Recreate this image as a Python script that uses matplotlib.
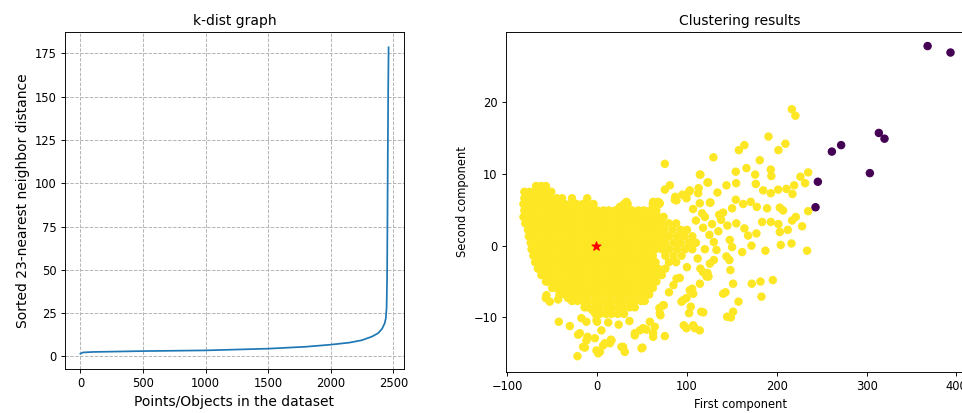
import matplotlib
matplotlib.use("Agg")
import matplotlib.pyplot as plt
import numpy as np

# ---------------- k-dist curve (sorted 23-NN distances) ----------------
kdist_x = [0, 20, 100, 500, 1000, 1500, 1800, 2000, 2150, 2250, 2330, 2380,
           2410, 2430, 2440, 2446, 2450, 2453, 2456, 2459, 2462]
kdist_y = [1.6, 2.3, 2.6, 3.1, 3.5, 4.5, 5.6, 6.8, 8.0, 9.4, 11.5, 13.5,
           16.0, 19.0, 22.0, 28.0, 45.0, 80.0, 120.0, 155.0, 178.5]

# ---------------- clustering scatter ----------------
# dense core of the main cluster: one y value per row, x values per row
core_row_y = [8.3, 7.5, 6.6, 5.8, 4.9, 4.0, 3.1, 2.2, 1.3, 0.4, -0.5, -1.4,
              -2.3, -3.2, -4.1, -5.0, -5.9, -6.8, -7.7, -8.6, -9.5]
core_row_x = [
    [-68, -62, -57],
    [-81, -75, -68, -62, -55, -51],
    [-81, -78, -71, -65, -58, -52, -45, -39, -28, -11],
    [-82, -75, -68, -62, -55, -49, -42, -36, -29, -23, -16, -10, -4, 30, 34, 62, 69],
    [-81, -78, -71, -65, -58, -52, -45, -39, -32, -26, -19, -13, -6, 0, 7, 13, 20, 26,
     33, 39, 46, 52, 59, 66],
    [-82, -75, -68, -62, -55, -49, -42, -36, -29, -23, -16, -10, -3, 3, 10, 16, 23, 29,
     36, 42, 49, 55, 62, 68, 74],
    [-80, -78, -71, -65, -58, -52, -45, -39, -32, -26, -19, -13, -6, 0, 7, 13, 20, 26,
     33, 39, 46, 52, 59, 65, 72, 80, 88],
    [-77, -75, -68, -62, -55, -49, -42, -36, -29, -23, -16, -10, -3, 3, 10, 16, 23, 29,
     36, 42, 49, 55, 62, 68, 75, 84, 93, 100],
    [-76, -71, -65, -58, -52, -45, -39, -32, -26, -19, -13, -6, 0, 7, 13, 20, 26, 33,
     39, 46, 52, 59, 65, 72, 80, 89, 97, 106],
    [-74, -68, -62, -55, -49, -42, -36, -29, -23, -16, -10, -3, 3, 10, 16, 23, 29, 36,
     42, 49, 55, 62, 68, 76, 85, 93, 102, 110],
    [-73, -71, -65, -58, -52, -45, -39, -32, -26, -19, -13, -6, 0, 7, 13, 20, 26, 33,
     39, 46, 52, 59, 65, 72, 80, 89, 98, 106],
    [-71, -68, -62, -55, -49, -42, -36, -29, -23, -16, -10, -3, 3, 10, 16, 23, 29, 36,
     42, 49, 55, 62, 76, 85, 94],
    [-69, -65, -58, -52, -45, -39, -32, -26, -19, -13, -6, 0, 7, 13, 20, 26, 33, 39,
     46, 52, 59, 65, 80, 88],
    [-66, -62, -55, -49, -42, -36, -29, -23, -16, -10, -3, 3, 10, 16, 23, 29, 36, 42,
     49, 55, 62, 68, 76],
    [-62, -58, -52, -45, -39, -32, -26, -19, -13, -6, 0, 7, 13, 20, 26, 33, 39, 46,
     52, 59, 65, 72],
    [-57, -55, -49, -42, -36, -29, -23, -16, -10, -3, 3, 10, 16, 23, 29, 36, 42, 49,
     55, 62, 66],
    [-50, -45, -39, -32, -26, -19, -13, -6, 0, 7, 13, 20, 26, 33, 39, 46, 52, 58, 62],
    [-42, -36, -29, -23, -16, -10, -3, 3, 10, 16, 23, 29, 36, 42, 49, 55, 58],
    [-28, -22, -16, -10, -3, 3, 10, 16, 23, 29, 36, 42, 49, 53],
    [-14, -10, -3, 3, 10, 16, 23, 29, 36, 42],
    [-2, 3, 10, 16, 23, 30],
]

# sparser points of the main cluster (x, y)
tail_upper = [
    (216.8, 19.0), (220.8, 18.1), (190.8, 15.2), (209.7, 14.2), (164.0, 14.0),
    (157.8, 13.3), (201.9, 13.3), (129.5, 12.3), (181.1, 11.9), (75.4, 11.4),
    (235.0, 10.2), (226.4, 9.6), (231.6, 8.7), (115.0, 9.9), (154.4, 10.3),
    (166.3, 10.8), (176.0, 9.9), (193.4, 10.6), (194.0, 9.7), (122.9, 8.8),
    (113.0, 8.0), (81.0, 8.4), (75.4, 7.8), (219.4, 8.4), (210.8, 7.9),
    (201.6, 7.8), (217.5, 7.2), (144.0, 8.4), (134.0, 7.4), (154.8, 8.7),
    (176.7, 8.6), (184.9, 7.7), (193.4, 7.3), (102.4, 7.5), (95.0, 7.1),
    (86.5, 6.4), (68.0, 6.1), (62.4, 6.1), (87.0, 6.8), (126.2, 6.0),
    (114.3, 5.9), (154.4, 6.4), (162.6, 5.8), (171.0, 6.1), (177.8, 5.4),
    (189.3, 5.2), (203.4, 5.3), (207.1, 4.9), (235.0, 4.8), (150.3, 5.2),
    (140.3, 4.6), (135.9, 4.3), (106.9, 5.1), (116.9, 4.5), (221.2, 4.0),
    (217.1, 3.5), (228.3, 2.7), (183.7, 3.3), (193.4, 3.3), (201.9, 3.0),
    (212.3, 2.2), (203.4, 1.9), (164.0, 2.4), (168.1, 1.4), (177.4, 1.7),
    (112.5, 7.3), (99.5, 6.6), (32.7, 6.1), (25.3, 5.4), (69.8, 5.9),
    (88.4, 6.3), (125.5, 6.0), (123.6, 8.8), (114.4, 9.9), (103.2, 7.7),
    (118.0, 2.5), (125.0, 1.5), (130.0, 0.5), (110.0, 3.5), (128.0, 3.0),
    (135.0, 2.0), (120.0, 4.0), (138.0, 3.6), (145.0, 2.8), (155.0, 3.1),
]
tail_lower = [
    (171.9, 0.0), (161.5, -0.9), (187.4, -0.7), (204.5, 0.1), (216.4, 0.3),
    (233.8, -0.7), (147.7, 0.8), (150.3, -0.2), (147.3, -2.0), (148.4, -3.4),
    (151.4, -5.3), (157.4, -7.8), (172.2, -5.3), (181.9, -5.0), (195.6, -4.8),
    (183.0, -7.1), (140.3, -6.7), (143.0, -6.5), (151.4, -9.2), (144.8, -9.9),
    (148.9, -10.0), (132.9, -0.6), (144.0, -1.5), (125.5, -2.5), (122.9, -3.8),
    (124.0, -4.3), (115.0, -3.2), (118.0, -3.7), (105.8, -6.0), (107.0, -6.7),
    (99.5, -7.3), (93.9, -7.8), (104.3, -8.5), (102.4, -9.4), (96.5, -11.1),
    (99.5, -11.5), (108.8, -11.5), (114.3, -11.8), (107.0, -11.1), (115.9, -9.2),
    (118.2, -9.3), (75.4, -12.6), (62.4, -12.2), (64.2, -11.3), (74.2, -8.3),
    (70.5, -9.7), (69.4, -8.7), (50.5, -14.2), (42.0, -12.2), (47.5, -11.8),
    (51.2, -11.5), (54.9, -11.7), (30.8, -14.8), (27.1, -14.1), (-0.7, -14.6),
    (3.0, -14.8), (6.7, -13.9), (14.1, -13.6), (16.0, -13.2), (4.8, -11.8),
    (-0.7, -10.4), (0.0, -10.6), (-15.6, -14.1), (-11.9, -13.2), (-19.3, -12.2),
    (-21.2, -12.4), (-11.9, -10.6), (-17.5, -10.1), (-21.9, -15.4), (-30.4, -11.2),
    (-42.7, -10.6), (-43.4, -7.5), (-32.3, -7.3), (-52.7, -7.8), (-56.4, -6.9),
    (-57.2, -7.3), (-5.2, -9.0), (-13.6, -14.2), (1.2, -15.0), (8.6, -13.6),
    (15.3, -13.1), (12.4, -10.7), (-10.7, -12.7), (-2.5, -12.9), (29.0, -14.1),
    (49.4, -14.3), (42.0, -12.5), (58.7, -10.6), (62.4, -12.7), (73.5, -8.3),
    (69.8, -9.4), (88.4, -4.6), (103.2, -6.2), (114.4, -5.3), (121.8, -4.3),
    (95.8, -7.6), (112.0, -1.8), (100.0, -3.0), (92.0, -4.5), (85.0, -5.5),
    (80.0, -6.5), (130.0, -2.0), (120.0, -0.5), (36.0, -10.5), (24.0, -11.0),
]

# noise points (label -1)
noise_x = [368.0, 393.5, 313.7, 320.0, 271.7, 261.4, 303.7, 245.8, 243.2]
noise_y = [27.8, 26.9, 15.7, 14.9, 14.0, 13.1, 10.1, 8.9, 5.35]

# cluster centre marker
center_x = [-1.5]
center_y = [-0.1]

# ---------------- assemble ----------------
pts_x, pts_y, labels = [], [], []
for yv, xs in zip(core_row_y, core_row_x):
    for xv in xs:
        pts_x.append(xv); pts_y.append(yv); labels.append(0)
for xv, yv in tail_upper + tail_lower:
    pts_x.append(xv); pts_y.append(yv); labels.append(0)
for xv, yv in zip(noise_x, noise_y):
    pts_x.append(xv); pts_y.append(yv); labels.append(-1)

DPI = 83
fig = plt.figure(figsize=(962 / DPI, 413 / DPI), dpi=DPI)

ax1 = fig.add_axes([65 / 962, 1 - 369 / 413, (404 - 65) / 962, (369 - 32) / 413])
ax1.plot(kdist_x, kdist_y, color="#1f77b4", lw=1.5)
ax1.grid(True, linestyle="--", color="#b0b0b0", lw=0.8)
ax1.set_title("k-dist graph")
ax1.set_xlabel("Points/Objects in the dataset", fontsize=12)
ax1.set_ylabel("Sorted 23-nearest neighbor distance", fontsize=12)
ax1.set_xticks([0, 500, 1000, 1500, 2000, 2500])
ax1.set_yticks([0, 25, 50, 75, 100, 125, 150, 175])

ax2 = fig.add_axes([505.7 / 962, 1 - 372 / 413, (974.3 - 505.7) / 962, (372 - 31.7) / 413])
ax2.scatter(pts_x, pts_y, c=labels, cmap="viridis", s=40)
ax2.scatter(center_x, center_y, marker="*", color="red", s=65, zorder=3)
ax2.set_xlim(-101.8, 420)
ax2.set_ylim(-17.6, 29.8)
ax2.set_title("Clustering results")
ax2.set_xlabel("First component")
ax2.set_ylabel("Second component")

fig.savefig("out.png", dpi=DPI)
